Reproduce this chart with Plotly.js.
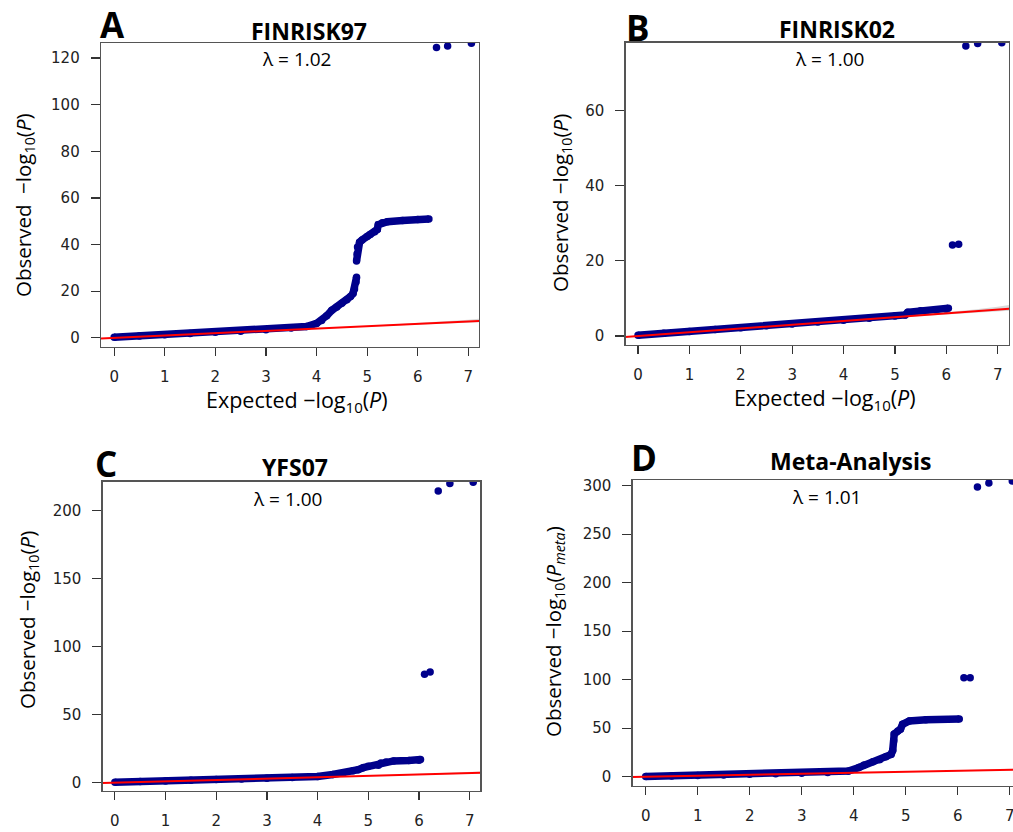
<!DOCTYPE html>
<html><head><meta charset="utf-8">
<script src="https://cdn.plot.ly/plotly-3.0.1.min.js"></script>
<style>html,body{margin:0;padding:0;overflow:hidden;background:#fff}#chart{width:1030px;height:832px}</style>
</head><body><div id="chart"></div>
<script>
// ---------- data ----------
const panelLetters = ["A", "B", "C", "D"];
const panelTitles = ["FINRISK97", "FINRISK02", "YFS07", "Meta-Analysis"];
const lambdaLabels = ["λ = 1.02", "λ = 1.00", "λ = 1.00", "λ = 1.01"];
const xTickVals = [0, 1, 2, 3, 4, 5, 6, 7];

// Panel A (FINRISK97) main QQ band (null = visible gap)
const qqA_x = [0, 0.5, 1, 1.5, 2, 2.5, 3, 3.5, 3.8, 4.0, 4.1, 4.2, 4.3, 4.4, 4.5, 4.6, 4.67, 4.72, 4.75, 4.78, 4.79, 4.79, 4.79, 4.8, 4.81, 4.85, 4.9, 5.0, 5.06, 5.15, 5.2, 5.22, 5.3, 5.4, 5.7, 6.0, 6.22];
const qqA_y = [0.3, 0.8, 1.4, 1.9, 2.4, 2.9, 3.5, 4.2, 4.9, 6.2, 7.5, 9.5, 11.8, 13.2, 14.9, 16.3, 17.7, 19, 21, 24, 26, null, 33, 36, 39, 41, 42, 43.5, 44.3, 45.5, 46.5, 48.5, 49.4, 49.8, 50.3, 50.8, 51];
const outA_x = [6.37, 6.59, 7.06];
const outA_y = [124.5, 125.1, 126.3];

// Panel B (FINRISK02)
const qqB_x = [0, 0.5, 1, 1.5, 2, 2.5, 3, 3.5, 4, 4.5, 5, 5.2, 5.25, 5.5, 5.8, 6.0, 6.04];
const qqB_y = [0.2, 0.7, 1.2, 1.7, 2.2, 2.7, 3.2, 3.7, 4.2, 4.7, 5.3, 5.6, 6.3, 6.7, 6.9, 7.1, 7.4];
const outB_x = [6.12, 6.24, 6.38, 6.61, 7.08];
const outB_y = [24.2, 24.4, 77.1, 77.8, 78];

// Panel C (YFS07)
const qqC_x = [0, 0.5, 1, 1.5, 2, 2.5, 3, 3.5, 4, 4.3, 4.5, 4.7, 4.8, 4.9, 5.0, 5.2, 5.25, 5.35, 5.5, 5.8, 6.0, 6.03];
const qqC_y = [0.3, 0.8, 1.3, 1.8, 2.3, 2.8, 3.3, 3.9, 4.6, 6, 7.2, 8.8, 9.5, 11, 12, 12.8, 14.5, 15.2, 16, 16.3, 16.5, 17];
const outC_x = [6.11, 6.22, 6.38, 6.61, 7.07];
const outC_y = [79.7, 81.2, 214.2, 219.6, 220.6];

// Panel D (Meta-analysis)
const qqD_x = [0, 0.5, 1, 1.5, 2, 2.5, 3, 3.5, 3.9, 4.1, 4.2, 4.37, 4.5, 4.62, 4.72, 4.75, 4.77, 4.78, 4.85, 4.9, 4.94, 5.07, 5.39, 6.03];
const qqD_y = [0.3, 0.8, 1.3, 1.8, 2.4, 2.9, 3.5, 4.3, 5.9, 9.5, 12, 15.5, 17.5, 20.6, 23, 27, 37, 44, 47, 49, 54, 57.5, 58.8, 59.5];
const outD_x = [6.12, 6.24, 6.38, 6.6, 7.05];
const outD_y = [102, 102, 298.7, 302.8, 304.8];

// y = x reference line and its grey confidence band
const refX = [-0.5, 7.5];
const refY = [-0.5, 7.5];
const ciX = [5.0, 5.5, 6.0, 6.5, 7.0, 7.3];
const ciLo = [4.9, 5.35, 5.8, 6.2, 6.6, 6.8];
const ciHi = [5.1, 5.7, 6.3, 7.0, 7.8, 8.4];

const yTickSteps = [20, 20, 50, 50];
const yTitles = [
  "Observed  −log<sub>10</sub>(<i>P</i>)",
  "Observed −log<sub>10</sub>(<i>P</i>)",
  "Observed −log<sub>10</sub>(<i>P</i>)",
  "Observed −log<sub>10</sub>(<i>P</i><sub><i>meta</i></sub>)"
];
const xTitle = "Expected −log<sub>10</sub>(<i>P</i>)";

// ---------- layout geometry (pixels) ----------
const W = 1030, H = 832;
const boxes = [
  {x0: 101, x1: 479, y0: 43, y1: 347, xr: [-0.26, 7.21], yr: [-3.9, 126.4]},
  {x0: 625.7, x1: 1009, y0: 42.7, y1: 345, xr: [-0.24, 7.22], yr: [-2.4, 78]},
  {x0: 102.7, x1: 480.3, y0: 481.7, y1: 791, xr: [-0.24, 7.21], yr: [-6.1, 221]},
  {x0: 632.7, x1: 1020.6, y0: 480, y1: 785.7, xr: [-0.25, 7.21], yr: [-9.3, 305.9]}
];
const letterPos = [[112, 25], [638, 27], [106, 463], [644, 457]];
const titlePos = [[309, 31], [837, 29], [295, 467], [850, 461]];
const lambdaPos = [[297, 59], [830, 59], [288, 499], [827, 497]];
const yTitlePos = [[24, 205], [561, 203], [28, 620], [554, 632]];
const xTitlePos = [[297, 401], [825, 399]];

const px = v => v / W, py = v => 1 - v / H;
const BLUE = "#00008B";
const qx = [qqA_x, qqB_x, qqC_x, qqD_x], qy = [qqA_y, qqB_y, qqC_y, qqD_y];
const ox = [outA_x, outB_x, outC_x, outD_x], oy = [outA_y, outB_y, outC_y, outD_y];

const traces = [], annotations = [];
const layout = {
  width: W, height: H, margin: {l: 0, r: 0, t: 0, b: 0},
  paper_bgcolor: "#fff", plot_bgcolor: "#fff", showlegend: false,
  font: {family: "DejaVu Sans", color: "#222"}
};

for (let i = 0; i < 4; i++) {
  const s = i === 0 ? "" : String(i + 1);
  const xa = "x" + s, ya = "y" + s;
  const b = boxes[i];
  layout["xaxis" + s] = {
    domain: [px(b.x0), px(b.x1)], range: b.xr, anchor: ya,
    tickvals: xTickVals, ticks: "outside", ticklen: 8, tickwidth: 1.2, tickcolor: "#333",
    showline: true, linecolor: "#555", linewidth: 1.3, mirror: true,
    showgrid: false, zeroline: false, ticklabelstandoff: 8,
    tickfont: {family: "DejaVu Sans", size: 15, color: "#222"}
  };
  layout["yaxis" + s] = {
    domain: [py(b.y1), py(b.y0)], range: b.yr, anchor: xa,
    dtick: yTickSteps[i], tick0: 0, ticks: "outside", ticklen: 9, tickwidth: 1.2, tickcolor: "#333",
    showline: true, linecolor: "#555", linewidth: 1.3, mirror: true,
    showgrid: false, zeroline: false, ticklabelstandoff: 8,
    tickfont: {family: "DejaVu Sans", size: 15, color: "#222"}
  };
  // main QQ band
  traces.push({x: qx[i], y: qy[i], xaxis: xa, yaxis: ya, type: "scatter", mode: "lines+markers",
    connectgaps: false, line: {color: BLUE, width: 7.5}, marker: {color: BLUE, size: 7.5}, hoverinfo: "skip"});
  // grey confidence band
  traces.push({x: ciX, y: ciLo, xaxis: xa, yaxis: ya, type: "scatter", mode: "lines",
    line: {color: "rgba(0,0,0,0)", width: 0}, hoverinfo: "skip"});
  traces.push({x: ciX, y: ciHi, xaxis: xa, yaxis: ya, type: "scatter", mode: "lines", fill: "tonexty",
    fillcolor: "rgba(170,170,170,0.45)", line: {color: "rgba(0,0,0,0)", width: 0}, hoverinfo: "skip"});
  // red expected line
  traces.push({x: refX, y: refY, xaxis: xa, yaxis: ya, type: "scatter", mode: "lines",
    line: {color: "#FF0000", width: 2}, hoverinfo: "skip"});
  // outliers
  traces.push({x: ox[i], y: oy[i], xaxis: xa, yaxis: ya, type: "scatter", mode: "markers",
    marker: {color: BLUE, size: 7.5}, hoverinfo: "skip"});

  annotations.push({xref: "paper", yref: "paper", x: px(letterPos[i][0]), y: py(letterPos[i][1]),
    text: "<b>" + panelLetters[i] + "</b>", showarrow: false, xanchor: "center", yanchor: "middle",
    font: {family: "Open Sans", size: 35, color: "#000"}});
  annotations.push({xref: "paper", yref: "paper", x: px(titlePos[i][0]), y: py(titlePos[i][1]),
    text: "<b>" + panelTitles[i] + "</b>", showarrow: false, xanchor: "center", yanchor: "middle",
    font: {family: "Open Sans", size: 23, color: "#000"}});
  annotations.push({xref: "paper", yref: "paper", x: px(lambdaPos[i][0]), y: py(lambdaPos[i][1]),
    text: lambdaLabels[i], showarrow: false, xanchor: "center", yanchor: "middle",
    font: {family: "Open Sans", size: 19, color: "#000"}});
  annotations.push({xref: "paper", yref: "paper", x: px(yTitlePos[i][0]), y: py(yTitlePos[i][1]),
    text: yTitles[i], showarrow: false, xanchor: "center", yanchor: "middle", textangle: -90,
    font: {family: "Open Sans", size: 20.5, color: "#000"}});
  if (i < 2) {
    annotations.push({xref: "paper", yref: "paper", x: px(xTitlePos[i][0]), y: py(xTitlePos[i][1]),
      text: xTitle, showarrow: false, xanchor: "center", yanchor: "middle",
      font: {family: "Open Sans", size: 21.5, color: "#000"}});
  }
}
layout.annotations = annotations;
Plotly.newPlot("chart", traces, layout, {staticPlot: true, displayModeBar: false});
</script></body></html>
